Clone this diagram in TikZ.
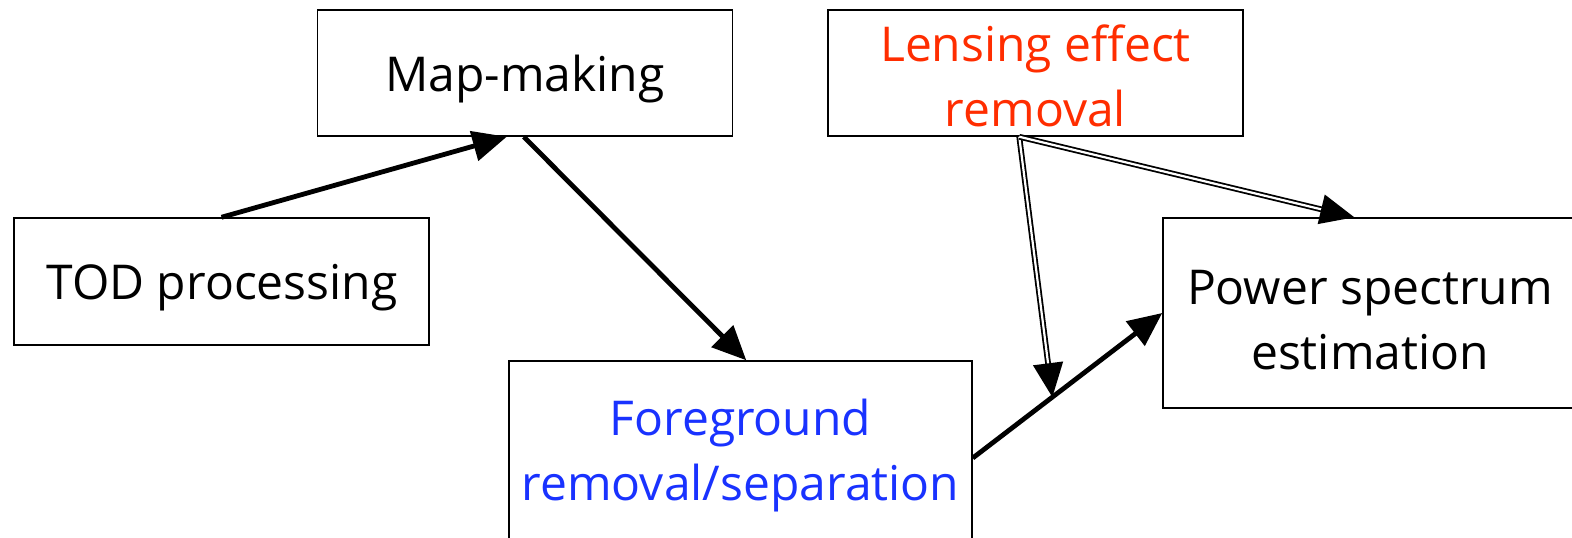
\documentclass[tikz,border=0pt]{standalone}
\usepackage{fontspec}
\setmainfont{Open Sans}
\usetikzlibrary{arrows.meta,calc}
\definecolor{lensred}{RGB}{255,45,0}
\definecolor{fgblue}{RGB}{25,50,255}
\begin{document}
\begin{tikzpicture}[x=0.5pt,y=-0.5pt,
  box/.style={draw, line width=0.75pt, inner sep=0pt},
  boxtext/.style={align=center, inner sep=0pt,
    font=\fontsize{24}{32.5}\selectfont},
  flow/.style={line width=2.4pt, -{Triangle[length=17pt,width=15pt]}},
  dflow/.style={line width=0.9pt, double, double distance=1.1pt,
    -{Triangle[length=17pt,width=15pt]}}]
\useasboundingbox (0,0) rectangle (1572,537);
\clip (0,0) rectangle (1572,537);
% process boxes
\node[box, minimum width=207.5pt, minimum height=63pt] (map) at (525,73) {};
\node[box, minimum width=207.5pt, minimum height=63pt] (lens) at (1035.5,73) {};
\node[box, minimum width=207.5pt, minimum height=63.5pt] (tod) at (221.5,281.5) {};
\node[box, minimum width=207pt, minimum height=95pt] (pow) at (1370,313) {};
\node[box, minimum width=231.5pt, minimum height=92pt] (fg) at (740.5,453) {};
% box labels
\node[boxtext] (maptext) at (525,79) {Map-making};
\node[boxtext, text=lensred] (lenstext) at (1035.5,76) {Lensing effect\\removal};
\node[boxtext] (todtext) at (222,288) {TOD processing};
\node[boxtext] (powtext) at (1370,320) {Power spectrum\\estimation};
\node[boxtext, text=fgblue] (fgtext) at (740.5,456) {Foreground\\removal/separation};
% connection points
\coordinate (fgout) at ($(fg.east)+(0,5)$);
\coordinate (powin) at (pow.west);
\coordinate (meet) at ($(fgout)!0.42!(powin)$);
\coordinate (lensout) at ($(lens.south west)+(192,0)$);
% connectors
\draw[flow] (tod.north) -- ($(map.south west)+(190,0)$);
\draw[flow] ($(map.south west)+(207,0)$) -- ($(fg.north west)+(238,0)$);
\draw[flow] (fgout) -- (powin);
\draw[dflow] (lensout) -- (meet);
\draw[dflow] (lensout) -- ($(pow.north west)+(192,0)$);
\end{tikzpicture}
\end{document}
